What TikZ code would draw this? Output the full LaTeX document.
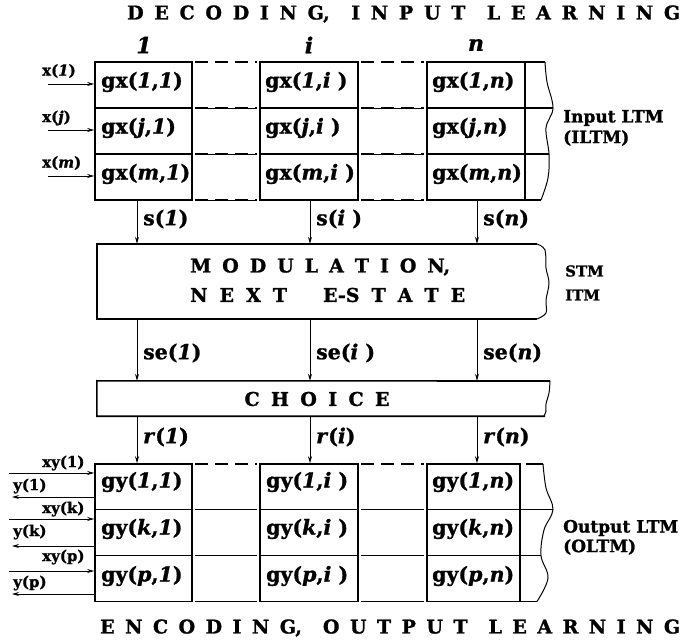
\documentclass[tikz,border=0pt]{standalone}
\usepackage{fontspec}
\setmainfont{DejaVu Serif}
\newfontfamily\heavy[FakeBold=1.2]{DejaVu Serif}
\usetikzlibrary{arrows.meta}
\newcommand\bi[1]{\textit{#1}}
\begin{document}
\begin{tikzpicture}[x=1pt,y=-1pt,
  colbox/.style={draw, line width=1.6pt, inner sep=0pt},
  grid/.style={line width=1.6pt},
  wave/.style={line width=1pt},
  dashrow/.style={line width=1.8pt, dash pattern=on 13pt off 7pt},
  thinrow/.style={line width=0.6pt},
  arr/.style={-{Stealth[length=7pt,width=4pt]}, line width=0.9pt},
  cell/.style={anchor=west, inner sep=0pt, font=\heavy\fontsize{20.5}{21}\selectfont\bfseries},
  lab/.style={anchor=west, inner sep=0pt, font=\heavy\fontsize{15}{16}\selectfont\bfseries},
  side/.style={anchor=west, inner sep=0pt, font=\heavy\fontsize{17}{18}\selectfont\bfseries},
  ttl/.style={anchor=west, inner sep=0pt, font=\heavy\fontsize{19}{20}\selectfont\bfseries},
  hdr/.style={inner sep=0pt, font=\heavy\fontsize{22}{22}\selectfont\bfseries\itshape}
]
\useasboundingbox (0,0) rectangle (683,644);

% titles
\node[ttl] (ttop) at (127,14) {\makebox[553pt][s]{D\hfil E\hfil C\hfil O\hfil D\hfil I\hfil N\hfil G,\hfil\hfil I\hfil N\hfil P\hfil U\hfil T\hfil\hfil L\hfil E\hfil A\hfil R\hfil N\hfil I\hfil N\hfil G}};
\node[ttl] (tbot) at (100,628) {\makebox[580pt][s]{E\hfil N\hfil C\hfil O\hfil D\hfil I\hfil N\hfil G,\hfil\hfil O\hfil U\hfil T\hfil P\hfil U\hfil T\hfil\hfil L\hfil E\hfil A\hfil R\hfil N\hfil I\hfil N\hfil G}};

% column headers
\node[hdr] (h1) at (144,45) {1};
\node[hdr] (hi) at (309,45) {i};
\node[hdr] (hn) at (476,45) {n};

% ---------- input grid ----------
\node[colbox, minimum width=97pt, minimum height=138pt] (inA) at (143.5,131) {};
\node[colbox, minimum width=98pt, minimum height=138pt] (inB) at (309,131) {};
\node[colbox, minimum width=98pt, minimum height=138pt] (inC) at (476,131) {};
\foreach \yy in {108,154} {
  \draw[grid] (95,\yy) -- (192,\yy);
  \draw[grid] (260,\yy) -- (358,\yy);
  \draw[grid] (427,\yy) -- (525,\yy);
  \draw[thinrow] (195,\yy) -- (257,\yy);
  \draw[thinrow] (361,\yy) -- (424,\yy);
}
\draw[thinrow] (195,200) -- (257,200);
\draw[thinrow] (361,200) -- (424,200);
\foreach \yy in {62,108,154,200} {
  \draw[dashrow] (195,\yy) -- (257,\yy);
  \draw[dashrow] (361,\yy) -- (424,\yy);
}
\draw[grid] (525,62) -- (545,62);
\draw[grid] (525,108) -- (553,108);
\draw[grid] (525,154) -- (549,154);
\draw[grid] (525,200) -- (541,200);
\draw[wave] plot[smooth, tension=0.6] coordinates {(545,62) (547,82) (553,108) (546,128) (549,154) (548,178) (541,200)};

% input cells
\node[cell] (g11) at (101,82) {gx(\bi{1},\bi{1})};
\node[cell] (g1i) at (265,82) {gx(\bi{1},\bi{i}\ )};
\node[cell] (g1n) at (432,82) {gx(\bi{1},\bi{n})};
\node[cell] (gj1) at (101,128) {gx(\bi{j},\bi{1})};
\node[cell] (gji) at (265,128) {gx(\bi{j},\bi{i}\ )};
\node[cell] (gjn) at (432,128) {gx(\bi{j},\bi{n})};
\node[cell] (gm1) at (101,174) {gx(\bi{m},\bi{1})};
\node[cell] (gmi) at (265,174) {gx(\bi{m},\bi{i}\ )};
\node[cell] (gmn) at (432,174) {gx(\bi{m},\bi{n})};

% input side arrows
\coordinate (x1) at (48,84);
\coordinate (xj) at (48,130);
\coordinate (xm) at (48,176);
\draw[arr] (x1) -- (x1 -| inA.west);
\draw[arr] (xj) -- (xj -| inA.west);
\draw[arr] (xm) -- (xm -| inA.west);
\node[lab] (lx1) at (42,71) {x(\bi{1})};
\node[lab] (lxj) at (42,118) {x(\bi{j})};
\node[lab] (lxm) at (42,163) {x(\bi{m})};

\node[side] (ilt1) at (563,118) {Input LTM};
\node[side] (ilt2) at (563,138) {(ILTM)};

% ---------- modulation ----------
\coordinate (a1) at (137,0);
\coordinate (ai) at (310,0);
\coordinate (an) at (477,0);
\node[inner sep=0pt, minimum width=440pt, minimum height=75pt] (mod) at (317,281.5) {};
\draw[grid] (mod.north east) -- (mod.north west) -- (mod.south west) -- (mod.south east);
\draw[wave] plot[smooth, tension=0.6] coordinates {(537,244) (545,250) (546,268) (549,283) (546,300) (546,313) (537,319)};
\node[ttl] (m1) at (190,267) {\makebox[260pt][s]{M\hfil O\hfil D\hfil U\hfil L\hfil A\hfil T\hfil I\hfil O\hfil N,}};
\node[ttl] (m2) at (190,295) {\makebox[275pt][s]{N\hfil E\hfil X\hfil T\hfil\hfil\hfil E-S\hfil T\hfil A\hfil T\hfil E}};
\node[lab] (stm) at (565,271) {STM};
\node[lab] (itm) at (565,295) {ITM};

\draw[arr] (inA.south -| a1) -- (mod.north -| a1);
\draw[arr] (inB.south -| ai) -- (mod.north -| ai);
\draw[arr] (inC.south -| an) -- (mod.north -| an);
\node[cell] (s1) at (143,219) {s(\bi{1})};
\node[cell] (si) at (316,219) {s(\bi{i}\ )};
\node[cell] (sn) at (483,219) {s(\bi{n})};

% ---------- choice ----------
\node[inner sep=0pt, minimum width=448pt, minimum height=35pt] (ch) at (321,398.5) {};
\draw[grid] (550,381) -- (ch.north west) -- (ch.south west) -- (ch.south east);
\draw[wave] plot[smooth, tension=0.6] coordinates {(550,381) (549,393) (546,404) (546,411) (544,416)};
\node[ttl, anchor=center] (cht) at (317,399) {\makebox[145pt][s]{C\hfil H\hfil O\hfil I\hfil C\hfil E}};

\draw[arr] (mod.south -| a1) -- (ch.north -| a1);
\draw[arr] (mod.south -| ai) -- (ch.north -| ai);
\draw[arr] (mod.south -| an) -- (ch.north -| an);
\node[cell] (se1) at (143,353) {se(\bi{1})};
\node[cell] (sei) at (316,353) {se(\bi{i}\ )};
\node[cell] (sen) at (483,353) {se(\bi{n})};

% ---------- output grid ----------
\node[colbox, minimum width=97pt, minimum height=137.5pt] (outA) at (143.5,532.75) {};
\node[colbox, minimum width=98pt, minimum height=137.5pt] (outB) at (309,532.75) {};
\node[colbox, minimum width=93pt, minimum height=137.5pt] (outC) at (473.5,532.75) {};

\draw[arr] (ch.south -| a1) -- (outA.north -| a1);
\draw[arr] (ch.south -| ai) -- (outB.north -| ai);
\draw[arr] (ch.south -| an) -- (outC.north -| an);
\node[cell] (r1) at (143,437) {\bi{r}(\bi{1})};
\node[cell] (ri) at (316,437) {\bi{r}(\bi{i})};
\node[cell] (rn) at (483,437) {\bi{r}(\bi{n})};

\foreach \yy in {509.5,555.5} {
  \draw[grid] (95,\yy) -- (192,\yy);
  \draw[grid] (260,\yy) -- (358,\yy);
  \draw[grid] (427,\yy) -- (520,\yy);
  \draw[thinrow] (195,\yy) -- (257,\yy);
  \draw[thinrow] (361,\yy) -- (424,\yy);
}
\draw[thinrow] (195,601.5) -- (257,601.5);
\draw[thinrow] (361,601.5) -- (424,601.5);
\foreach \yy in {464,509.5,555.5,601.5} {
  \draw[dashrow] (195,\yy) -- (257,\yy);
  \draw[dashrow] (361,\yy) -- (424,\yy);
}
\draw[grid] (526,464) -- (543,464);
\draw[grid] (520,509.5) -- (553,509.5);
\draw[grid] (520,555.5) -- (541,555.5);
\draw[grid] (520,601.5) -- (537,601.5);
\draw[wave] plot[smooth, tension=0.6] coordinates {(543,464) (546,488) (553,509.5) (544,530) (541,555.5) (548,578) (537,601.5)};

% output cells
\node[cell] (y11) at (101,482) {gy(\bi{1},\bi{1})};
\node[cell] (y1i) at (266,482) {gy(\bi{1},\bi{i}\ )};
\node[cell] (y1n) at (432,482) {gy(\bi{1},\bi{n})};
\node[cell] (yk1) at (101,529) {gy(\bi{k},\bi{1})};
\node[cell] (yki) at (266,529) {gy(\bi{k},\bi{i}\ )};
\node[cell] (ykn) at (432,529) {gy(\bi{k},\bi{n})};
\node[cell] (yp1) at (101,576) {gy(\bi{p},\bi{1})};
\node[cell] (ypi) at (266,576) {gy(\bi{p},\bi{i}\ )};
\node[cell] (ypn) at (432,576) {gy(\bi{p},\bi{n})};

% output side arrows
\coordinate (xy1) at (9,473);
\coordinate (yo1) at (12,497);
\coordinate (xyk) at (9,519);
\coordinate (yok) at (12,546);
\coordinate (xyp) at (9,571);
\coordinate (yop) at (12,594);
\draw[arr] (xy1) -- (xy1 -| outA.west);
\draw[arr] (yo1 -| outA.west) -- (yo1);
\draw[arr] (xyk) -- (xyk -| outA.west);
\draw[arr] (yok -| outA.west) -- (yok);
\draw[arr] (xyp) -- (xyp -| outA.west);
\draw[arr] (yop -| outA.west) -- (yop);
\node[lab] (lxy1) at (42,463) {xy(1)};
\node[lab] (ly1) at (13,486) {y(1)};
\node[lab] (lxyk) at (42,509) {xy(k)};
\node[lab] (lyk) at (13,532) {y(k)};
\node[lab] (lxyp) at (42,557) {xy(p)};
\node[lab] (lyp) at (13,583) {y(p)};

\node[side] (olt1) at (563,528) {Output LTM};
\node[side] (olt2) at (563,547) {(OLTM)};
\end{tikzpicture}
\end{document}
